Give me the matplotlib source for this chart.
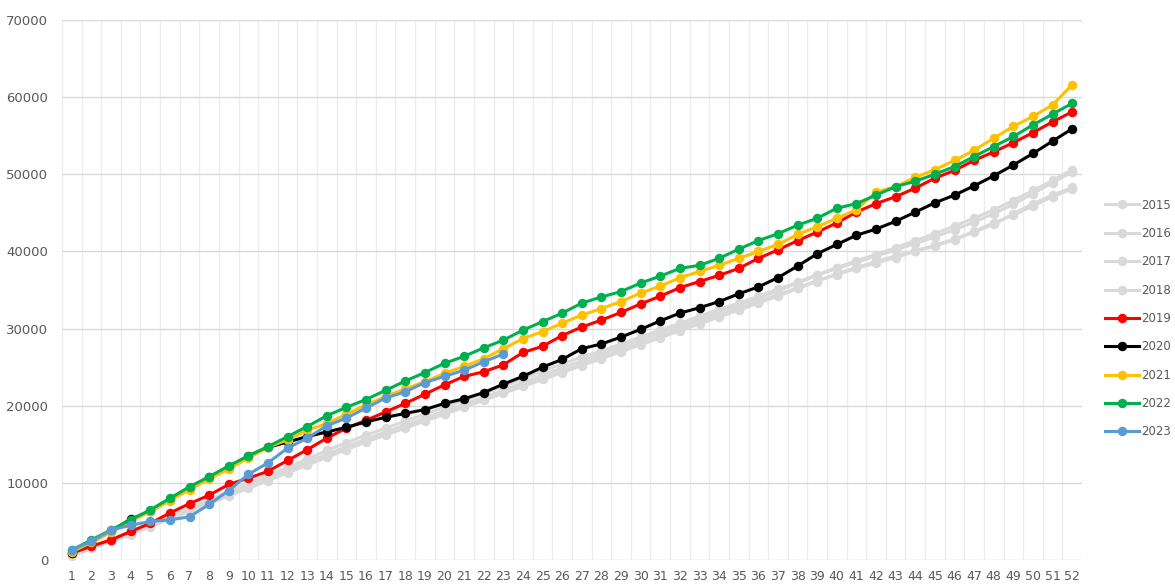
import numpy as np
import matplotlib
matplotlib.use('Agg')
import matplotlib.pyplot as plt

# week numbers on the x axis
weeks = list(range(1, 53))

y2015 = [700, 1700, 2700, 3700, 4700, 5700, 6700, 7800, 8900, 10000,
         11000, 12000, 13100, 14200, 15200, 16200, 17100, 18000, 18900, 19800,
         20700, 21600, 22500, 23500, 24500, 25400, 26300, 27100, 28000, 28900,
         29800, 30700, 31600, 32500, 33300, 34200, 35100, 36000, 37000, 37900,
         38800, 39600, 40500, 41400, 42300, 43300, 44300, 45400, 46600, 47900,
         49200, 50600]
y2016 = [600, 1600, 2500, 3500, 4400, 5400, 6400, 7500, 8600, 9700,
         10700, 11700, 12700, 13700, 14700, 15700, 16600, 17500, 18400, 19300,
         20200, 21100, 22000, 23000, 24000, 24900, 25800, 26700, 27600, 28500,
         29400, 30300, 31200, 32100, 33000, 33900, 34900, 35900, 36900, 37800,
         38600, 39400, 40200, 41000, 41900, 42800, 43800, 44900, 46100, 47500,
         48900, 50300]
y2017 = [800, 1700, 2600, 3600, 4600, 5600, 6600, 7600, 8600, 9600,
         10600, 11600, 12600, 13600, 14600, 15500, 16400, 17300, 18200, 19100,
         20000, 20900, 21800, 22700, 23600, 24500, 25400, 26300, 27200, 28100,
         29000, 29900, 30800, 31700, 32600, 33500, 34400, 35300, 36200, 37000,
         37800, 38500, 39200, 40000, 40700, 41500, 42500, 43500, 44900, 46200,
         47300, 48300]
y2018 = [500, 1500, 2400, 3300, 4300, 5300, 6300, 7300, 8300, 9300,
         10300, 11300, 12300, 13300, 14300, 15300, 16200, 17100, 18000, 18900,
         19800, 20700, 21600, 22500, 23400, 24300, 25200, 26100, 27000, 27900,
         28800, 29700, 30600, 31500, 32400, 33300, 34200, 35200, 36100, 37100,
         37900, 38700, 39400, 40100, 40800, 41600, 42600, 43700, 44700, 45900,
         47100, 48100]
y2019 = [870, 1800, 2600, 3700, 4750, 6100, 7300, 8400, 9800, 10600,
         11500, 12900, 14300, 15800, 17100, 18100, 19200, 20300, 21500, 22700,
         23800, 24400, 25300, 26900, 27700, 29100, 30200, 31100, 32100, 33200,
         34200, 35300, 36100, 36900, 37800, 39100, 40200, 41400, 42500, 43700,
         45100, 46200, 47100, 48200, 49500, 50500, 51800, 52900, 54100, 55400,
         56800, 58100]
y2020 = [900, 2300, 3700, 5300, 6300, 7800, 9300, 10700, 12000, 13500,
         14600, 15300, 16000, 16600, 17200, 17900, 18500, 19000, 19500, 20300,
         20900, 21700, 22800, 23800, 25000, 26000, 27400, 28000, 28900, 29900,
         31000, 32000, 32700, 33500, 34500, 35400, 36600, 38100, 39700, 40900,
         42100, 42900, 43900, 45100, 46300, 47300, 48500, 49800, 51200, 52700,
         54300, 55900]
y2021 = [1000, 2300, 3600, 5000, 6300, 7700, 9100, 10500, 11800, 13200,
         14600, 15600, 16800, 17700, 18900, 20100, 21200, 22200, 23100, 24200,
         25100, 26100, 27400, 28700, 29600, 30700, 31750, 32600, 33500, 34600,
         35500, 36600, 37400, 38200, 39100, 40000, 40900, 42200, 43200, 44300,
         45400, 47700, 48400, 49600, 50600, 51800, 53100, 54700, 56200, 57500,
         59000, 61600]
y2022 = [1300, 2600, 3900, 5200, 6500, 8000, 9500, 10800, 12200, 13500,
         14700, 16000, 17300, 18700, 19800, 20800, 22000, 23200, 24300, 25500,
         26400, 27500, 28500, 29800, 30900, 32000, 33300, 34100, 34800, 35900,
         36800, 37800, 38200, 39100, 40300, 41400, 42300, 43400, 44300, 45600,
         46200, 47300, 48400, 49100, 50000, 51000, 52300, 53600, 54900, 56400,
         57800, 59200]
y2023 = [1300, 2400, 3900, 4500, 5000, 5200, 5600, 7200, 9000, 11100,
         12600, 14500, 15800, 17400, 18400, 19700, 21000, 21800, 23000, 23800,
         24600, 25700, 26700]

series = [
    ('2015', y2015, '#d9d9d9'),
    ('2016', y2016, '#d9d9d9'),
    ('2017', y2017, '#d9d9d9'),
    ('2018', y2018, '#d9d9d9'),
    ('2019', y2019, '#ff0000'),
    ('2020', y2020, '#000000'),
    ('2021', y2021, '#ffc000'),
    ('2022', y2022, '#00b050'),
    ('2023', y2023, '#5b9bd5'),
]

fig = plt.figure(figsize=(11.75, 5.85), dpi=100)
ax = fig.add_axes([62 / 1175, 1 - 560 / 585, 1020 / 1175, 540 / 585])

for label, values, color in series:
    ax.plot(
        weeks[:len(values)],
        values,
        color=color,
        lw=2.2,
        marker='o',
        markersize=5.8,
        label=label
    )

ax.set_xlim(0.5, 52.5)
ax.set_ylim(0, 70000)
ax.set_xticks(weeks)
ax.set_xticks(np.arange(0.5, 53, 1), minor=True)
ax.set_yticks(range(0, 70001, 10000))
ax.tick_params(axis='both', which='both', length=0, colors='#595959')
ax.tick_params(axis='x', labelsize=9, pad=7)
ax.tick_params(axis='y', labelsize=9.5, pad=10)
ax.grid(True, axis='y', which='major', color='#d9d9d9', lw=1)
ax.grid(True, axis='x', which='minor', color='#ececec', lw=1)
ax.set_axisbelow(True)
for spine in ax.spines.values():
    spine.set_visible(False)

fig.legend(
    loc='center left',
    bbox_to_anchor=(1105 / 1175, 1 - 318.5 / 585),
    bbox_transform=fig.transFigure,
    frameon=False,
    borderpad=0,
    borderaxespad=0,
    handlelength=2.9,
    handletextpad=0.2,
    labelspacing=1.3,
    labelcolor='#595959',
    prop={'size': 8.5}
)

fig.savefig('out.png', dpi=100)
